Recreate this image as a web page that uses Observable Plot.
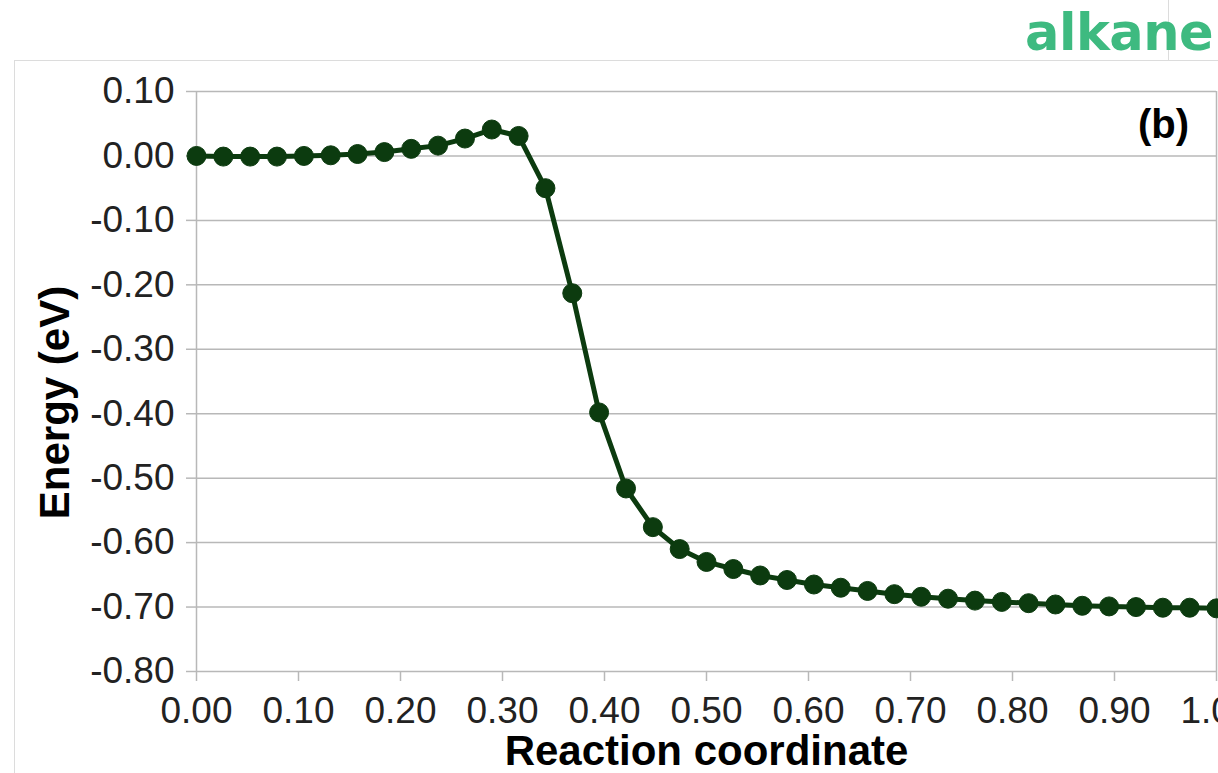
<!DOCTYPE html>
<html>
<head>
<meta charset="utf-8">
<script src="https://cdn.jsdelivr.net/npm/d3@7"></script>
<script src="https://cdn.jsdelivr.net/npm/@observablehq/plot@0.6"></script>
<style>
  html, body { margin: 0; padding: 0; background: #fff; overflow: hidden; }
  #wrap { position: relative; width: 1218px; height: 773px; overflow: hidden; }
  #frame { position: absolute; left: 14px; top: 60px; width: 1230px; height: 760px;
           border-left: 1px solid #dcdcdc; border-top: 1px solid #dcdcdc; }
  #vline { position: absolute; left: 1168px; top: 0; width: 0; height: 60px; border-left: 1px solid #dcdcdc; }
  #logo { position: absolute; left: 1025px; top: 7px; font-family: "DejaVu Sans"; font-weight: 700;
          font-size: 51px; color: #3eba80; line-height: 1; letter-spacing: -0.5px; }
  #chart { position: absolute; left: 0; top: 0; }
</style>
</head>
<body>
<div id="wrap">
  <div id="frame"></div>
  <div id="vline"></div>
  <div id="logo">alkane</div>
  <div id="chart"></div>
</div>
<script>
// Reaction coordinate (x) and energy in eV (y)
const reactionCoordinate = [
  0.0000, 0.0263, 0.0526, 0.0789, 0.1053, 0.1316, 0.1579, 0.1842, 0.2105, 0.2368,
  0.2632, 0.2895, 0.3158, 0.3421, 0.3684, 0.3947, 0.4211, 0.4474, 0.4737, 0.5000,
  0.5263, 0.5526, 0.5789, 0.6053, 0.6316, 0.6579, 0.6842, 0.7105, 0.7368, 0.7632,
  0.7895, 0.8158, 0.8421, 0.8684, 0.8947, 0.9211, 0.9474, 0.9737, 1.0000
];
const energy = [
  0.000, -0.001, -0.001, -0.001, 0.000, 0.001, 0.003, 0.006, 0.011, 0.016,
  0.027, 0.041, 0.031, -0.050, -0.213, -0.398, -0.516, -0.576, -0.610, -0.630,
  -0.641, -0.651, -0.658, -0.665, -0.670, -0.675, -0.680, -0.684, -0.687, -0.690,
  -0.692, -0.694, -0.696, -0.698, -0.699, -0.700, -0.701, -0.701, -0.702
];
const xTicks = [0, 0.1, 0.2, 0.3, 0.4, 0.5, 0.6, 0.7, 0.8, 0.9, 1.0];
const yTicks = [0.1, 0, -0.1, -0.2, -0.3, -0.4, -0.5, -0.6, -0.7, -0.8];
const xTitle = "Reaction coordinate";
const yTitle = "Energy (eV)";
const panelLabel = "(b)";

const data = reactionCoordinate.map((x, i) => ({x, y: energy[i]}));
const fmt = v => (Math.abs(v) < 1e-9 ? 0 : v).toFixed(2);
const ink = "#0c3b0f";
const gray = "#b8b8b8";

const chart = Plot.plot({
  width: 1218,
  height: 773,
  marginLeft: 196,
  marginRight: 2,
  marginTop: 91,
  marginBottom: 102,
  style: {fontFamily: "'Liberation Sans', Arial, sans-serif", fontSize: "37px", color: "#222", background: "transparent", overflow: "visible"},
  x: {domain: [0, 1]},
  y: {domain: [-0.8, 0.1]},
  marks: [
    Plot.ruleY(yTicks, {stroke: gray, strokeWidth: 1.5}),
    Plot.ruleX([0], {stroke: gray, strokeWidth: 1.5, y1: -0.8, y2: 0.1}),
    Plot.ruleX([1], {stroke: gray, strokeWidth: 1.5, y1: -0.8, y2: 0.1}),
    Plot.axisX({ticks: xTicks, tickFormat: fmt, tickSize: 10, tickPadding: 15, label: null, stroke: gray, strokeWidth: 1.5, fill: "#222"}),
    Plot.axisY({ticks: yTicks, tickFormat: fmt, tickSize: 10, tickPadding: 12, label: null, stroke: gray, strokeWidth: 1.5, fill: "#222"}),
    Plot.line(data, {x: "x", y: "y", stroke: ink, strokeWidth: 5}),
    Plot.dot(data, {x: "x", y: "y", r: 9.5, fill: ink, stroke: ink, strokeWidth: 1}),
    Plot.text([xTitle], {frameAnchor: "bottom", dy: 80, fontSize: 42, fontWeight: "bold", fill: "#000", textAnchor: "middle", lineAnchor: "middle"}),
    Plot.text([yTitle], {frameAnchor: "left", dx: -141, dy: 21, rotate: -90, fontSize: 42, fontWeight: "bold", fill: "#000", textAnchor: "middle", lineAnchor: "middle"}),
    Plot.text([panelLabel], {frameAnchor: "top-right", dx: -53, dy: 34, fontSize: 40, fontWeight: "bold", fill: "#000", textAnchor: "middle", lineAnchor: "middle"})
  ]
});
document.getElementById("chart").appendChild(chart);
</script>
</body>
</html>
